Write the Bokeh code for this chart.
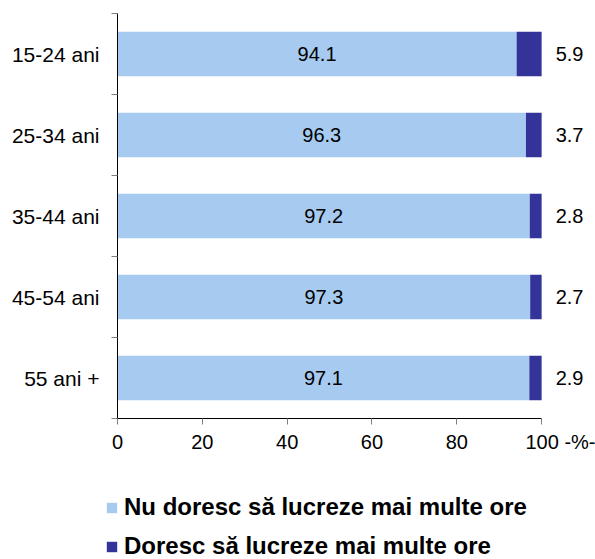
from bokeh.plotting import figure
from bokeh.models import (Range1d, FixedTicker, Legend, LegendItem,
                          ColumnDataSource)
from bokeh.layouts import column
from bokeh.core.properties import value
from bokeh.embed import file_html
from bokeh.resources import INLINE

categories = ["15-24 ani", "25-34 ani", "35-44 ani", "45-54 ani", "55 ani +"]
nu_doresc = [94.1, 96.3, 97.2, 97.3, 97.1]
doresc = [5.9, 3.7, 2.8, 2.7, 2.9]
series_names = ["Nu doresc să lucreze mai multe ore", "Doresc să lucreze mai multe ore"]
x_ticks = [0, 20, 40, 60, 80, 100]
unit_label = "-%-"

LIGHT = "#A6CAF0"
DARK = "#333399"
FONT = "Liberation Sans"

n = len(categories)
ypos = [n - 1 - i for i in range(n)]
src = ColumnDataSource(dict(
    y=ypos,
    a=nu_doresc,
    b=doresc,
    total=[a + b for a, b in zip(nu_doresc, doresc)],
    a_mid=[a / 2 for a in nu_doresc],
    a_lbl=[f"{a:.1f}" for a in nu_doresc],
    b_lbl=[f"{b:.1f}" for b in doresc],
))

p = figure(width=595, height=460, output_backend="svg", toolbar_location=None,
           x_range=Range1d(0, 112.7), y_range=Range1d(-0.5, n - 0.5),
           min_border_left=117, min_border_right=0, min_border_top=13,
           min_border_bottom=42, title=None)
p.frame_align = False
p.outline_line_color = None
p.xgrid.visible = False
p.ygrid.visible = False

r1 = p.hbar(y="y", left=0, right="a", height=0.55, source=src,
            fill_color=LIGHT, line_color=None)
r2 = p.hbar(y="y", left="a", right="total", height=0.55, source=src,
            fill_color=DARK, line_color=None)

p.text(x="a_mid", y="y", text="a_lbl", source=src, text_align="center",
       text_baseline="middle", text_font_size="20px", text_color="black",
       text_font=value(FONT))
p.text(x="total", y="y", text="b_lbl", source=src, text_align="left",
       text_baseline="middle", text_font_size="20px", text_color="black",
       text_font=value(FONT), x_offset=14)

# x axis
xa = p.xaxis[0]
xa.ticker = FixedTicker(ticks=x_ticks)
xa.bounds = (0, 100)
xa.major_label_overrides = {100: "\u00a0" * 7 + "100 " + unit_label}
xa.axis_line_color = "black"
xa.major_tick_out = 6
xa.major_tick_in = 0
xa.major_tick_line_color = "#808080"
xa.minor_tick_line_color = None
xa.major_label_text_font = FONT
xa.major_label_text_font_size = "20px"
xa.major_label_text_color = "black"
xa.major_label_standoff = 6

# y axis
ya = p.yaxis[0]
ya.ticker = FixedTicker(ticks=ypos, minor_ticks=[k - 0.5 for k in range(n + 1)])
ya.major_label_overrides = {ypos[i]: categories[i] for i in range(n)}
ya.axis_line_color = "black"
ya.major_tick_line_color = None
ya.major_tick_out = 0
ya.major_tick_in = 0
ya.minor_tick_out = 6
ya.minor_tick_in = 0
ya.minor_tick_line_color = "#808080"
ya.major_label_text_font = FONT
ya.major_label_text_font_size = "21px"
ya.major_label_text_color = "black"
ya.major_label_standoff = 12

# legend figure below the chart
lf = figure(width=595, height=99, output_backend="svg", toolbar_location=None,
            x_range=Range1d(0, 1), y_range=Range1d(0, 1),
            x_axis_location=None, y_axis_location=None,
            min_border_left=0, min_border_right=0, min_border_top=0,
            min_border_bottom=0, title=None)
lf.frame_align = False
lf.outline_line_color = None
lf.grid.visible = False
l1 = lf.hbar(y=[-10], left=[-10], right=[-9], height=0.5, fill_color=LIGHT, line_color=None)
l2 = lf.hbar(y=[-10], left=[-10], right=[-9], height=0.5, fill_color=DARK, line_color=None)
legend = Legend(items=[LegendItem(label=series_names[0], renderers=[l1]),
                       LegendItem(label=series_names[1], renderers=[l2])],
                location=(105, -1), orientation="vertical",
                glyph_width=13, glyph_height=13, label_standoff=6,
                label_height=28,
                label_text_font=FONT, label_text_font_size="24px",
                label_text_font_style="bold", label_text_color="black",
                spacing=11, padding=0, margin=0, border_line_color=None,
                background_fill_alpha=0)
lf.add_layout(legend, "center")

layout = column(p, lf, spacing=0)
open("out.html", "w").write(file_html(layout, INLINE))
